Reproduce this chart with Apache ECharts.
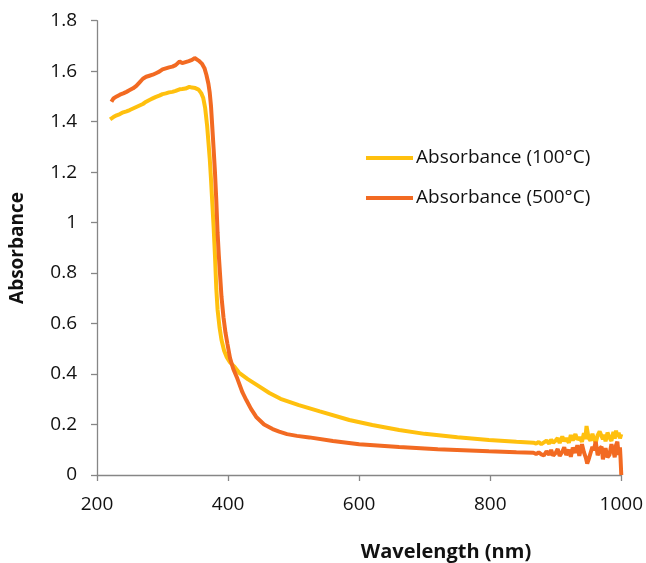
<!DOCTYPE html>
<html>
<head>
<meta charset="utf-8">
<script src="https://cdn.jsdelivr.net/npm/echarts@6/dist/echarts.min.js"></script>
<style>html,body{margin:0;padding:0;background:#fff;}#c{width:646px;height:563px;}</style>
</head>
<body>
<div id="c"></div>
<script>
const xTicks = [200, 400, 600, 800, 1000];
const yTicks = [0, 0.2, 0.4, 0.6, 0.8, 1, 1.2, 1.4, 1.6, 1.8];
const seriesNames = ['Absorbance (100°C)', 'Absorbance (500°C)'];

const wl100 = [220,225,230,235,240,245,250,255,260,265,270,275,280,285,290,295,300,305,310,315,320,326,330,335,341,345,350,355,359,362,365,368,370,372,374,376,378,380,382,384,387,390,394,398,403,410,417,430,445,463,480,508,540,585,620,661,700,750,798,840,866,
870,874,878,882,886,890,893,896,900,903,906,910,913,916,920,923,926,930,933,936,940,943,945,947,950,953,956,958,961,964,967,970,972,974,976,979,982,985,988,990,992,994,996,998,1000];
const abs100 = [1.409,1.418,1.425,1.43,1.437,1.441,1.446,1.452,1.458,1.464,1.47,1.479,1.486,1.492,1.498,1.503,1.509,1.512,1.516,1.518,1.522,1.528,1.529,1.531,1.538,1.535,1.533,1.527,1.513,1.495,1.455,1.385,1.32,1.255,1.17,1.075,0.98,0.87,0.74,0.655,0.585,0.535,0.492,0.467,0.446,0.428,0.405,0.38,0.355,0.325,0.302,0.277,0.252,0.218,0.198,0.178,0.163,0.15,0.139,0.132,0.128,
0.124,0.131,0.122,0.129,0.136,0.124,0.14,0.128,0.137,0.146,0.127,0.152,0.134,0.145,0.128,0.158,0.137,0.162,0.14,0.15,0.132,0.166,0.142,0.194,0.148,0.136,0.163,0.145,0.128,0.158,0.172,0.178,0.142,0.16,0.133,0.168,0.148,0.135,0.171,0.144,0.176,0.152,0.168,0.145,0.162];

const wl500 = [222,225,230,235,240,245,250,255,260,265,270,275,280,285,290,295,300,305,310,315,320,326,330,335,340,345,349,352,355,360,364,367,370,372,374,376,378,380,382,384,386,388,390,393,396,399,403,408,414,422,428,435,443,455,468,478,490,505,524,560,600,661,720,798,840,866,
870,874,878,882,886,890,893,896,900,903,906,910,913,916,920,923,926,930,933,936,940,943,946,948,950,953,956,958,961,964,967,970,972,974,976,979,982,985,988,990,992,994,996,998,999,1000];
const abs500 = [1.479,1.492,1.5,1.507,1.512,1.518,1.525,1.532,1.542,1.556,1.57,1.578,1.582,1.586,1.592,1.598,1.607,1.611,1.615,1.618,1.624,1.638,1.632,1.636,1.64,1.645,1.652,1.647,1.642,1.63,1.612,1.585,1.55,1.515,1.46,1.375,1.29,1.2,1.09,0.96,0.865,0.785,0.705,0.625,0.565,0.52,0.463,0.42,0.383,0.327,0.296,0.262,0.23,0.2,0.182,0.172,0.162,0.155,0.149,0.135,0.122,0.111,0.102,0.094,0.09,0.088,
0.083,0.09,0.082,0.078,0.094,0.08,0.099,0.077,0.088,0.103,0.075,0.092,0.11,0.079,0.1,0.072,0.108,0.088,0.118,0.076,0.122,0.09,0.068,0.045,0.06,0.086,0.112,0.098,0.132,0.078,0.104,0.112,0.062,0.09,0.106,0.07,0.08,0.122,0.095,0.07,0.118,0.132,0.08,0.11,0.06,0.0];

const colors = ['#FFC00E', '#F26A22'];

const chart = echarts.init(document.getElementById('c'), null, {renderer: 'canvas'});
const pairs = (xs, ys) => xs.map((x, i) => [x, ys[i]]);
const font = '"Open Sans", "Liberation Sans", sans-serif';

chart.setOption({
  animation: false,
  backgroundColor: '#ffffff',
  grid: {left: 97, right: 24, top: 20.7, bottom: 88, containLabel: false},
  xAxis: {
    type: 'value', min: xTicks[0], max: xTicks[xTicks.length - 1], interval: 200,
    axisLine: {show: true, lineStyle: {color: '#868686', width: 1.3}},
    axisTick: {show: true, length: 6, lineStyle: {color: '#868686', width: 1.3}},
    splitLine: {show: false},
    axisLabel: {color: '#111', fontSize: 19, fontFamily: font, margin: 20,
      formatter: v => String(v)}
  },
  yAxis: {
    type: 'value', min: yTicks[0], max: yTicks[yTicks.length - 1], interval: 0.2,
    axisLine: {show: true, lineStyle: {color: '#868686', width: 1.3}},
    axisTick: {show: true, length: 6, lineStyle: {color: '#868686', width: 1.3}},
    splitLine: {show: false},
    axisLabel: {color: '#111', fontSize: 19, fontFamily: font, margin: 20,
      formatter: v => String(Math.round(v * 10) / 10)}
  },
  legend: {
    orient: 'vertical', left: 361, top: 143, itemWidth: 47, itemHeight: 4, itemGap: 20,
    icon: 'rect',
    textStyle: {color: '#111', fontSize: 19, lineHeight: 20, fontFamily: font, padding: [0, 0, 0, -2]},
    data: seriesNames
  },
  graphic: [
    {type: 'text', x: 18, y: 248, rotation: Math.PI / 2,
      style: {text: 'Absorbance', font: 'bold 19px ' + font, fill: '#111', textAlign: 'center', textVerticalAlign: 'middle'}},
    {type: 'text', x: 446, y: 552,
      style: {text: 'Wavelength (nm)', font: 'bold 20px ' + font, fill: '#111', textAlign: 'center', textVerticalAlign: 'middle'}}
  ],
  series: [
    {name: seriesNames[0], type: 'line', data: pairs(wl100, abs100), symbol: 'none', smooth: false,
      lineStyle: {color: colors[0], width: 4}, itemStyle: {color: colors[0]}, z: 2},
    {name: seriesNames[1], type: 'line', data: pairs(wl500, abs500), symbol: 'none', smooth: false,
      lineStyle: {color: colors[1], width: 4}, itemStyle: {color: colors[1]}, z: 3}
  ]
});
</script>
</body>
</html>
